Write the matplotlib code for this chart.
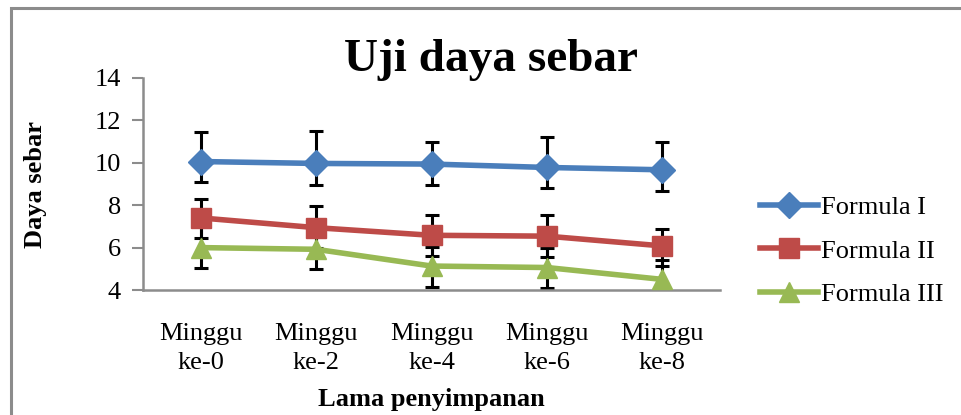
import matplotlib
matplotlib.use("Agg")
import matplotlib.pyplot as plt
from matplotlib.patches import Rectangle
import numpy as np

categories = ["Minggu\nke-0", "Minggu\nke-2", "Minggu\nke-4", "Minggu\nke-6", "Minggu\nke-8"]
series_names = ["Formula I", "Formula II", "Formula III"]
f1 = [10.06, 9.97, 9.94, 9.78, 9.67]
f1_up = [1.40, 1.51, 1.02, 1.42, 1.32]
f1_lo = [0.96, 1.01, 0.98, 0.99, 0.99]
f2 = [7.40, 6.94, 6.58, 6.54, 6.08]
f2_up = [0.91, 1.01, 0.95, 1.00, 0.79]
f2_lo = [0.96, 0.94, 0.98, 0.98, 0.95]
f3 = [6.00, 5.92, 5.13, 5.06, 4.50]
f3_up = [1.00, 1.00, 0.90, 0.90, 0.90]
f3_lo = [0.94, 0.94, 0.97, 0.98, 0.90]
yticks = [4, 6, 8, 10, 12, 14]

W, H = 962, 415
fig = plt.figure(figsize=(W/100, H/100), dpi=100)
plt.rcParams['font.family'] = ['Liberation Serif', 'DejaVu Serif']

# chart border
fig.patches.append(Rectangle((11/W, -0.1), 1.2, (H-8)/H + 0.1, transform=fig.transFigure,
                             fill=False, edgecolor='#8c8c8c', linewidth=2.2))

ax = fig.add_axes([143/W, 1-290/H, (720-143)/W, (290-78)/H])
x = np.arange(len(categories))
colors = ['#4A7EBB', '#BE4B48', '#98B954']
markers = ['D', 's', '^']
msizes = [13, 15, 15]
data = [(f1, f1_lo, f1_up), (f2, f2_lo, f2_up), (f3, f3_lo, f3_up)]

handles = []
for (vals, lo, up), c, m, ms, name in zip(data, colors, markers, msizes, series_names):
    ax.errorbar(x, vals, yerr=[lo, up], fmt='none', ecolor='black', elinewidth=2.2,
                capsize=5, capthick=2.2, zorder=2)
for (vals, lo, up), c, m, ms, name in zip(data, colors, markers, msizes, series_names):
    h, = ax.plot(x, vals, color=c, marker=m, markersize=ms, linewidth=4.0,
                 markeredgecolor=c, label=name, zorder=3)
    handles.append(h)

ax.set_xlim(-0.5, 4.5)
ax.set_ylim(4, 14)
ax.set_yticks(yticks)
ax.set_xticks(x)
ax.set_xticklabels(categories, fontsize=19, linespacing=1.4)
ax.tick_params(axis='y', labelsize=19, length=8, width=1.5, color='#8c8c8c', pad=8)
ax.tick_params(axis='x', length=0, pad=24)
for s in ['top', 'right']:
    ax.spines[s].set_visible(False)
for s in ['left', 'bottom']:
    ax.spines[s].set_color('#8c8c8c')
    ax.spines[s].set_linewidth(1.8)

ax.yaxis.set_label_coords(-96/577, 0.5)
ax.set_ylabel("Daya sebar", fontsize=19, fontweight='bold')
ax.set_xlabel("Lama penyimpanan", fontsize=19, fontweight='bold', labelpad=10)
fig.text(491/W, 1-60/H, "Uji daya sebar", fontsize=34, fontweight='bold',
         ha='center', va='center')

leg = fig.legend(handles=handles, loc='upper left', bbox_to_anchor=(760/W, 1-196/H),
                 frameon=False, fontsize=19, handlelength=2.2, handletextpad=0.1,
                 labelspacing=0.75, borderaxespad=0, borderpad=0)

fig.savefig("out.png", dpi=100)
